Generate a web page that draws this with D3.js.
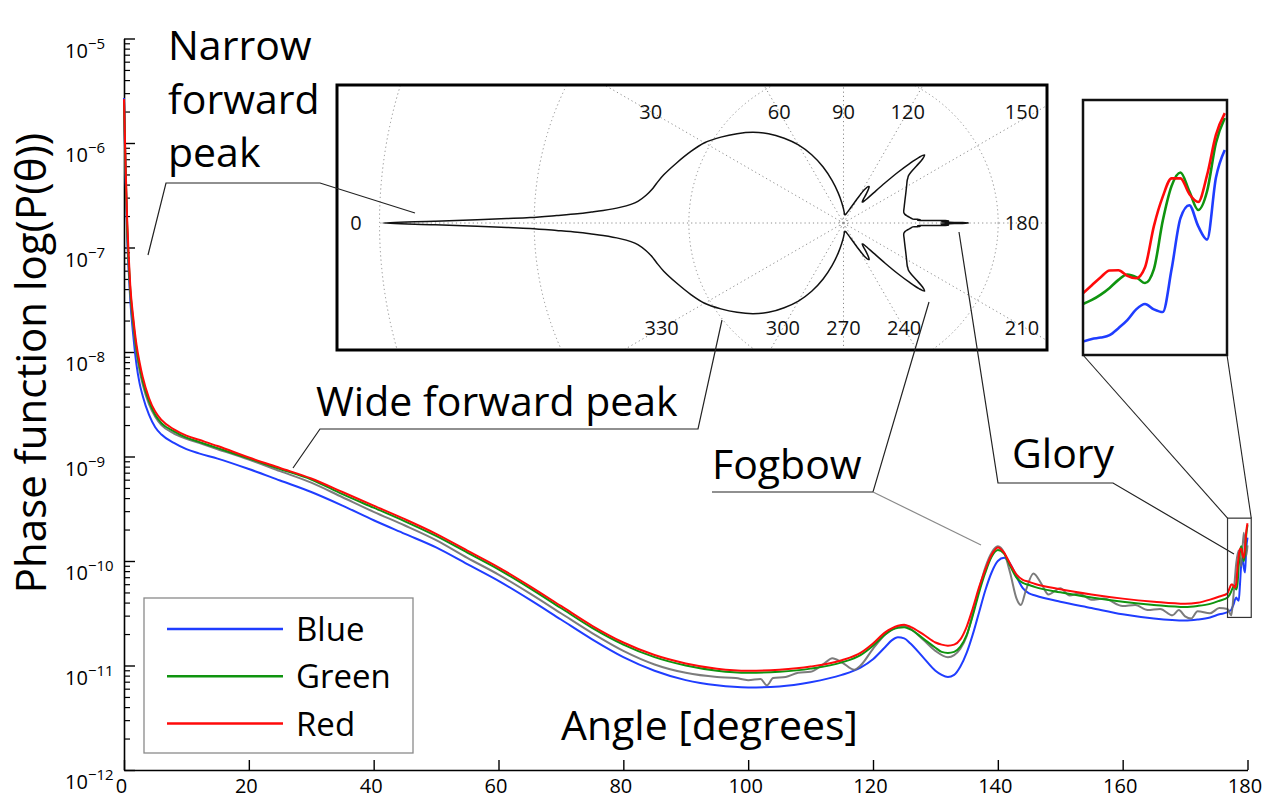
<!DOCTYPE html>
<html><head><meta charset="utf-8">
<script src="https://cdn.jsdelivr.net/npm/d3@7"></script>
<style>
body{margin:0;background:#fff}
svg{display:block}
</style>
</head><body>
<svg id="c" width="1279" height="798"></svg>
<script>
// ---------------- DATA ----------------
// scattering angle (degrees) for the Blue / Green / Red series
const angles = [0,0.25,0.5,0.75,1,1.5,2,2.5,3,4,5,6,8,10,12,15,20,25,30,35,40,45,50,55,60,65,70,75,80,85,90,95,100,105,110,115,118,120,122,123,124,125,126,128,130,131,132,133,134,135,136,137,138,139,140,141,142,143,144,145,146,150,155,160,165,170,172,174,175.5,176.8,177.0,177.2,177.4,177.6,177.8,178.0,178.2,178.4,178.6,178.8,179.0,179.2,179.4,179.6,179.8,180.0];
// log10 of phase function P(theta)
const redLog = [-5.58,-6.2,-6.72,-7.08,-7.36,-7.68,-7.93,-8.1,-8.24,-8.44,-8.57,-8.65,-8.74,-8.8,-8.84,-8.9,-9.01,-9.11,-9.21,-9.34,-9.47,-9.6,-9.74,-9.9,-10.06,-10.24,-10.43,-10.62,-10.78,-10.9,-10.98,-11.03,-11.05,-11.04,-11.01,-10.95,-10.88,-10.79,-10.68,-10.645,-10.62,-10.61,-10.63,-10.7,-10.78,-10.8,-10.81,-10.8,-10.75,-10.63,-10.45,-10.25,-10.08,-9.94,-9.87,-9.92,-10.03,-10.13,-10.18,-10.2,-10.22,-10.27,-10.32,-10.36,-10.39,-10.41,-10.4,-10.37,-10.34,-10.31,-10.28,-10.25,-10.225,-10.224,-10.245,-10.254,-10.213,-10.06,-9.95,-9.882,-9.882,-9.94,-9.97,-9.87,-9.72,-9.639];
const greenLog = [-5.6,-6.25,-6.78,-7.13,-7.4,-7.72,-7.97,-8.14,-8.28,-8.47,-8.6,-8.68,-8.76,-8.82,-8.86,-8.92,-9.02,-9.12,-9.22,-9.36,-9.49,-9.62,-9.76,-9.92,-10.08,-10.26,-10.45,-10.64,-10.8,-10.92,-11.0,-11.05,-11.07,-11.06,-11.03,-10.97,-10.9,-10.81,-10.7,-10.66,-10.64,-10.635,-10.655,-10.74,-10.83,-10.87,-10.88,-10.87,-10.82,-10.71,-10.52,-10.3,-10.11,-9.96,-9.895,-9.93,-10.05,-10.16,-10.21,-10.23,-10.25,-10.3,-10.35,-10.39,-10.42,-10.44,-10.43,-10.41,-10.38,-10.35,-10.335,-10.315,-10.29,-10.26,-10.24,-10.25,-10.272,-10.22,-10.04,-9.91,-9.86,-9.93,-10.0,-9.93,-9.75,-9.657];
const blueLog = [-5.57,-6.3,-6.88,-7.22,-7.5,-7.85,-8.12,-8.3,-8.42,-8.6,-8.72,-8.79,-8.87,-8.93,-8.97,-9.02,-9.12,-9.23,-9.34,-9.47,-9.61,-9.74,-9.87,-10.03,-10.19,-10.37,-10.56,-10.75,-10.92,-11.05,-11.14,-11.19,-11.21,-11.2,-11.16,-11.09,-11.02,-10.94,-10.82,-10.76,-10.73,-10.74,-10.79,-10.92,-11.05,-11.09,-11.11,-11.09,-11.01,-10.88,-10.7,-10.49,-10.28,-10.11,-10.0,-9.97,-10.03,-10.15,-10.26,-10.31,-10.33,-10.39,-10.45,-10.51,-10.55,-10.57,-10.56,-10.54,-10.51,-10.49,-10.48,-10.475,-10.466,-10.44,-10.41,-10.37,-10.35,-10.37,-10.38,-10.22,-10.03,-9.982,-10.06,-10.11,-9.88,-9.776];
// grey reference curve (not in legend)
const greyAngles = [0,0.25,0.5,0.75,1,1.5,2,2.5,3,4,5,6,8,10,12,15,20,25,30,35,40,45,50,55,60,65,70,75,80,85,90,95,98,100,102,103,104,106,108,110,112,113.5,115,117,118,120,122,124,125,126,128,130,132,133,134,135,136,137,138,139,140,141,142,143,143.7,144.5,145.7,147,148.1,150,151.5,153,155,157,160,162,164,166,168,169,170,171,172,174,175.5,176.8,177.4,177.8,178.2,178.6,179.0,179.4,179.8,180];
const greyLog = [-5.6,-6.27,-6.82,-7.18,-7.45,-7.77,-8.01,-8.18,-8.31,-8.5,-8.62,-8.7,-8.78,-8.83,-8.87,-8.93,-9.03,-9.14,-9.25,-9.39,-9.53,-9.66,-9.8,-9.97,-10.13,-10.31,-10.5,-10.69,-10.86,-10.99,-11.07,-11.11,-11.12,-11.14,-11.13,-11.19,-11.12,-11.11,-11.07,-11.06,-10.99,-10.93,-10.97,-11.04,-11.0,-10.84,-10.7,-10.63,-10.62,-10.65,-10.75,-10.86,-10.92,-10.9,-10.84,-10.72,-10.5,-10.27,-10.06,-9.92,-9.86,-9.92,-10.12,-10.36,-10.42,-10.28,-10.12,-10.22,-10.32,-10.26,-10.33,-10.31,-10.37,-10.36,-10.43,-10.42,-10.47,-10.46,-10.52,-10.47,-10.53,-10.55,-10.48,-10.5,-10.45,-10.46,-10.52,-10.3,-10.02,-9.9,-10.05,-9.73,-9.95,-9.85];

const seriesNames = ["Blue","Green","Red"];
const xTicks = [0,20,40,60,80,100,120,140,160,180];
const yTickExps = [-12,-11,-10,-9,-8,-7,-6,-5];
const polarLabelAngles = [0,30,60,90,120,150,180,210,240,270,300,330];
const annotationTexts = {narrow:["Narrow","forward","peak"], wide:"Wide forward peak", fogbow:"Fogbow", glory:"Glory"};
const xTitle = "Angle [degrees]";
const yTitle = "Phase function log(P(θ))";
// zoom window on the glory (angle range, log10 range)
const gloryWindowAngles = [176.8, 180.6];
const gloryInsetAngles = [176.8, 180.05];
const gloryWindowLog = [-10.54, -9.59];
// polar inset radial reference (log10 offset and outer ring)
const polarBaseLog = -11.15;
const polarOuterRing = 5.61;

// ---------------- STYLE / LAYOUT ----------------
const FONT = "'Open Sans','Noto Sans',sans-serif";
const colors = {Blue:"#1f3dff", Green:"#0f940f", Red:"#ff0a0a", Grey:"#6e6e6e"};
const svg = d3.select("#c").attr("font-family", FONT);
const P = v => Math.pow(10, v);

const x = d3.scaleLinear().domain([0,180]).range([124,1247.5]);
const y = d3.scaleLog().domain([1e-12,1e-5]).range([770,38.5]);

// ---- Y axis ----
const majorVals = yTickExps.map(e => P(e));
const minorVals = [];
yTickExps.slice(0,-1).forEach(e => { for (let m=2;m<=9;m++) minorVals.push(m*P(e)); });
const gy = svg.append("g").attr("transform","translate(124,0)")
  .call(d3.axisLeft(y).tickValues(majorVals).tickSizeInner(-11).tickSizeOuter(0).tickFormat(""));
gy.select(".domain").attr("stroke","#000").attr("stroke-width",1.6);
gy.selectAll(".tick line").attr("stroke","#000").attr("stroke-width",1.4);
const gym = svg.append("g").attr("transform","translate(124,0)")
  .call(d3.axisLeft(y).tickValues(minorVals).tickSizeInner(-6).tickSizeOuter(0).tickFormat(""));
gym.select(".domain").remove();
gym.selectAll(".tick line").attr("stroke","#000").attr("stroke-width",1.2);
yTickExps.forEach(e => {
  const t = svg.append("text").attr("x",65).attr("y", y(P(e)) + 19)
    .attr("text-anchor","start").attr("font-size",20).attr("fill","#000");
  t.append("tspan").text("10");
  t.append("tspan").attr("dy",-9).attr("font-size",15).text("\u2212" + Math.abs(e));
});

// ---- X axis ----
const gx = svg.append("g").attr("transform","translate(0,770)")
  .call(d3.axisBottom(x).tickValues(xTicks).tickSizeInner(-10).tickSizeOuter(0).tickPadding(9));
gx.attr("font-family", FONT).attr("font-size",20);
gx.select(".domain").attr("stroke","#000").attr("stroke-width",1.6);
gx.selectAll(".tick line").attr("stroke","#000").attr("stroke-width",1.4);
gx.selectAll(".tick text").attr("fill","#000").attr("dx",-3);

// ---- axis titles ----
svg.append("text").attr("transform","translate(46,363) rotate(-90)")
  .attr("text-anchor","middle").attr("font-size",42).attr("fill","#000").text(yTitle);
svg.append("text").attr("x",561).attr("y",740).attr("font-size",41).attr("fill","#000").text(xTitle);

// ---- curves ----
const line = d3.line().x(d => x(d[0])).y(d => y(P(d[1]))).curve(d3.curveMonotoneX);
const seriesLog = {Blue: blueLog, Green: greenLog, Red: redLog};
const curves = svg.append("g").attr("fill","none");
curves.append("path").datum(angles.map((a,i)=>[a,blueLog[i]]))
  .attr("d",line).attr("stroke",colors.Blue).attr("stroke-width",2);
curves.append("path").datum(greyAngles.map((a,i)=>[a,greyLog[i]]))
  .attr("d",line).attr("stroke",colors.Grey).attr("stroke-width",2).attr("stroke-opacity",0.9);
curves.append("path").datum(angles.map((a,i)=>[a,greenLog[i]]))
  .attr("d",line).attr("stroke",colors.Green).attr("stroke-width",2);
curves.append("path").datum(angles.map((a,i)=>[a,redLog[i]]))
  .attr("d",line).attr("stroke",colors.Red).attr("stroke-width",2);

// ---- legend ----
const leg = svg.append("g");
leg.append("rect").attr("x",144).attr("y",598).attr("width",269).attr("height",155)
  .attr("fill","#fff").attr("stroke","#8a8a8a").attr("stroke-width",1.3);
seriesNames.forEach((n,i) => {
  const ly = 629 + i*47.3;
  leg.append("line").attr("x1",167).attr("x2",283).attr("y1",ly).attr("y2",ly)
    .attr("stroke",colors[n]).attr("stroke-width",2.5);
  leg.append("text").attr("x",296).attr("y",ly+12).attr("font-size",33).attr("fill","#000").text(n);
});

// ---- glory zoom window on main plot + inset ----
const gwx0 = x(gloryWindowAngles[0]), gwx1 = x(gloryWindowAngles[1]);
const gwy0 = y(P(gloryWindowLog[1])), gwy1 = y(P(gloryWindowLog[0]));
svg.append("rect").attr("x",gwx0).attr("y",gwy0).attr("width",gwx1-gwx0).attr("height",gwy1-gwy0)
  .attr("fill","none").attr("stroke","#333").attr("stroke-width",1.2);
const ins = {x0:1083, y0:100, x1:1227, y1:355};
svg.append("line").attr("x1",ins.x0).attr("y1",ins.y1).attr("x2",gwx0).attr("y2",gwy0).attr("stroke","#222").attr("stroke-width",1.1);
svg.append("line").attr("x1",ins.x1).attr("y1",ins.y1).attr("x2",gwx1).attr("y2",gwy0).attr("stroke","#222").attr("stroke-width",1.1);
const xi = d3.scaleLinear().domain(gloryInsetAngles).range([ins.x0, ins.x1]);
const yi = d3.scaleLog().domain([P(gloryWindowLog[0]), P(gloryWindowLog[1])]).range([ins.y1, ins.y0]);
svg.append("clipPath").attr("id","insClip").append("rect")
  .attr("x",ins.x0).attr("y",ins.y0).attr("width",ins.x1-ins.x0).attr("height",ins.y1-ins.y0);
svg.append("rect").attr("x",ins.x0).attr("y",ins.y0).attr("width",ins.x1-ins.x0).attr("height",ins.y1-ins.y0).attr("fill","#fff");
const lineI = d3.line().x(d => xi(d[0])).y(d => yi(P(d[1]))).curve(d3.curveMonotoneX);
const gi = svg.append("g").attr("clip-path","url(#insClip)").attr("fill","none");
seriesNames.forEach(n => {
  const pts = angles.map((a,i)=>[a, seriesLog[n][i]]).filter(d => d[0] >= gloryInsetAngles[0]-0.01);
  gi.append("path").datum(pts).attr("d",lineI).attr("stroke",colors[n]).attr("stroke-width",2.6);
});
svg.append("rect").attr("x",ins.x0).attr("y",ins.y0).attr("width",ins.x1-ins.x0).attr("height",ins.y1-ins.y0)
  .attr("fill","none").attr("stroke","#111").attr("stroke-width",2.5);

// ---- polar inset ----
const pb = {x0:337, y0:85, x1:1047, y1:350};
const pc = {x:843.5, y:223};
const rScale = d3.scaleLinear().domain([0, polarOuterRing]).range([0, 464]);
svg.append("clipPath").attr("id","polClip").append("rect")
  .attr("x",pb.x0).attr("y",pb.y0).attr("width",pb.x1-pb.x0).attr("height",pb.y1-pb.y0);
svg.append("rect").attr("x",pb.x0).attr("y",pb.y0).attr("width",pb.x1-pb.x0).attr("height",pb.y1-pb.y0).attr("fill","#fff");
const pg = svg.append("g").attr("clip-path","url(#polClip)");
const pgc = pg.append("g").attr("transform",`translate(${pc.x},${pc.y})`);
const gridStyle = s => s.attr("fill","none").attr("stroke","#8c8c8c").attr("stroke-width",1).attr("stroke-dasharray","1.2,3");
[1,2,3].forEach(k => gridStyle(pgc.append("circle").attr("r", rScale(polarOuterRing*k/3))));
gridStyle(pgc.append("circle").attr("r",4));
d3.range(0,360,30).forEach(a => {
  const t = a*Math.PI/180, R = rScale(polarOuterRing);
  gridStyle(pgc.append("line").attr("x1",0).attr("y1",0).attr("x2",-R*Math.cos(t)).attr("y2",-R*Math.sin(t)));
});
const polarPts = angles.map((a,i)=>({th:a, v:redLog[i]}));
const polarLoop = polarPts.concat(polarPts.slice(1,-1).reverse().map(d => ({th:360-d.th, v:d.v})));
const radial = d3.lineRadial()
  .angle(d => (d.th - 90) * Math.PI/180)
  .radius(d => rScale(d.v - polarBaseLog))
  .curve(d3.curveCatmullRomClosed.alpha(0.5));
pgc.append("path").datum(polarLoop).attr("d",radial).attr("fill","none").attr("stroke","#111").attr("stroke-width",1.5);
// angle labels
polarLabelAngles.forEach(a => {
  const t = a*Math.PI/180;
  let lx, ly;
  if (Math.abs(Math.sin(t)) < 1e-6) { ly = pc.y; lx = pc.x - Math.cos(t)*1000; }
  else {
    ly = Math.sin(t) > 0 ? 111.7 : 328;
    const dist = Math.abs(pc.y - ly) / Math.abs(Math.sin(t));
    lx = pc.x - Math.cos(t)*dist;
  }
  lx = Math.max(pb.x0+19, Math.min(pb.x1-25, lx));
  svg.append("text").attr("x",lx).attr("y",ly+7).attr("text-anchor","middle")
    .attr("font-size",20).attr("fill","#111").text(a);
});
svg.append("rect").attr("x",pb.x0).attr("y",pb.y0).attr("width",pb.x1-pb.x0).attr("height",pb.y1-pb.y0)
  .attr("fill","none").attr("stroke","#000").attr("stroke-width",3);

// ---- annotations ----
const leaders = [
  {pts:[[148,255],[166,183],[320,183],[415,213]], c:"#222"},
  {pts:[[293,468],[320,429],[698,429],[722,320]], c:"#222"},
  {pts:[[712,492],[873,492],[929,302]], c:"#222"},
  {pts:[[873,492],[981,545]], c:"#8a8a8a"},
  {pts:[[959,232],[998,483],[1113,483],[1234,554]], c:"#222"}
];
leaders.forEach(L => svg.append("path").attr("d", d3.line()(L.pts)).attr("fill","none")
  .attr("stroke",L.c).attr("stroke-width",1.2));
annotationTexts.narrow.forEach((s,i) => svg.append("text").attr("x",168).attr("y",60+i*53.5)
  .attr("font-size",41).attr("fill","#000").text(s));
svg.append("text").attr("x",316).attr("y",416).attr("font-size",41).attr("fill","#000").text(annotationTexts.wide);
svg.append("text").attr("x",712).attr("y",479).attr("font-size",41).attr("fill","#000").text(annotationTexts.fogbow);
svg.append("text").attr("x",1012).attr("y",468).attr("font-size",41).attr("fill","#000").text(annotationTexts.glory);
</script>
</body></html>
